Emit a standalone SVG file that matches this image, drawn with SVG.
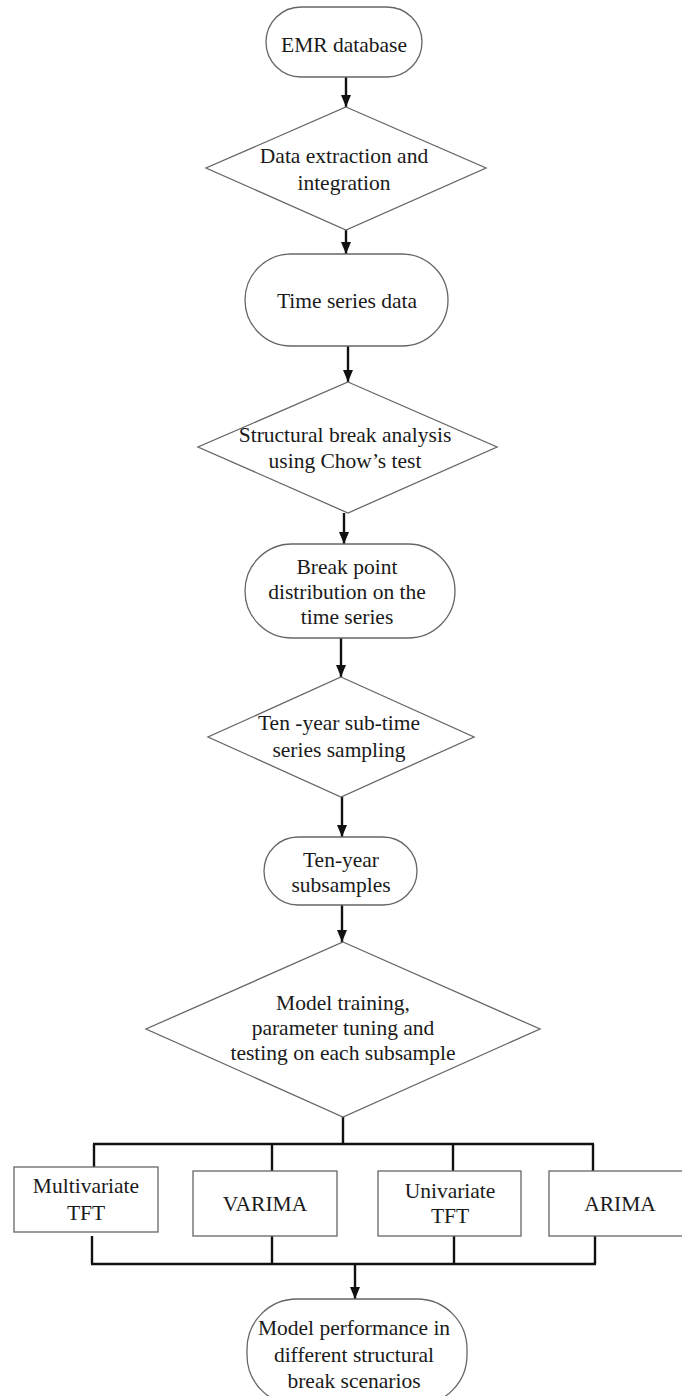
<svg xmlns="http://www.w3.org/2000/svg" width="682" height="1396" viewBox="0 0 682 1396">
<style>
.shape{fill:#fff;stroke:#666;stroke-width:1.3}
.t{font-family:"Liberation Serif","Times New Roman",serif;font-size:21.5px;fill:#1a1a1a;text-anchor:middle}
.c{fill:none;stroke:#111;stroke-width:2.4}
</style>
<defs>
<marker id="ah" markerUnits="userSpaceOnUse" markerWidth="12" markerHeight="12" viewBox="0 0 12 12" refX="12" refY="6" orient="auto">
<path d="M0,1 L12,6 L0,11 z" fill="#111"/>
</marker>
</defs>
<rect width="682" height="1396" fill="#fff"/>
<g id="connectors">
<line class="c" x1="346" y1="77" x2="346" y2="107" marker-end="url(#ah)"/>
<line class="c" x1="346" y1="230" x2="346" y2="254" marker-end="url(#ah)"/>
<line class="c" x1="348" y1="346" x2="348" y2="382" marker-end="url(#ah)"/>
<line class="c" x1="344" y1="513" x2="344" y2="544" marker-end="url(#ah)"/>
<line class="c" x1="341" y1="638" x2="341" y2="677" marker-end="url(#ah)"/>
<line class="c" x1="342" y1="797" x2="342" y2="837" marker-end="url(#ah)"/>
<line class="c" x1="342" y1="905" x2="342" y2="942" marker-end="url(#ah)"/>
<line class="c" x1="343" y1="1117" x2="343" y2="1144"/>
<line class="c" x1="93" y1="1144" x2="594" y2="1144"/>
<line class="c" x1="94" y1="1144" x2="94" y2="1167"/>
<line class="c" x1="272" y1="1144" x2="272" y2="1171"/>
<line class="c" x1="453" y1="1144" x2="453" y2="1171"/>
<line class="c" x1="593" y1="1144" x2="593" y2="1171"/>
<line class="c" x1="92" y1="1236" x2="92" y2="1264"/>
<line class="c" x1="272" y1="1236" x2="272" y2="1264"/>
<line class="c" x1="454" y1="1236" x2="454" y2="1264"/>
<line class="c" x1="595" y1="1236" x2="595" y2="1264"/>
<line class="c" x1="91" y1="1264" x2="596" y2="1264"/>
<line class="c" x1="355" y1="1264" x2="355" y2="1299" marker-end="url(#ah)"/>
</g>
<g id="emr">
<rect class="shape" x="266" y="7" width="156" height="70" rx="35" ry="35"/>
<text class="t" x="344" y="52">EMR database</text>
</g>
<g id="extract">
<polygon class="shape" points="346,107 486,168 346,230 206,168"/>
<text class="t" x="344" y="163">Data extraction and</text>
<text class="t" x="344" y="190">integration</text>
</g>
<g id="timeseries">
<rect class="shape" x="245" y="254" width="203" height="92" rx="46" ry="46"/>
<text class="t" x="347" y="308">Time series data</text>
</g>
<g id="chow">
<polygon class="shape" points="348,382 497,447 348,513 198,447"/>
<text class="t" x="345" y="442">Structural break analysis</text>
<text class="t" x="345" y="468">using Chow’s test</text>
</g>
<g id="breakpoint">
<rect class="shape" x="245" y="544" width="210" height="94" rx="47" ry="47"/>
<text class="t" x="347" y="574">Break point</text>
<text class="t" x="347" y="599">distribution on the</text>
<text class="t" x="347" y="624">time series</text>
</g>
<g id="sampling">
<polygon class="shape" points="341,677 474,737 341,797 208,737"/>
<text class="t" x="339" y="730">Ten -year sub-time</text>
<text class="t" x="339" y="757">series sampling</text>
</g>
<g id="subsamples">
<rect class="shape" x="264" y="837" width="153" height="68" rx="34" ry="34"/>
<text class="t" x="341" y="867">Ten-year</text>
<text class="t" x="341" y="892">subsamples</text>
</g>
<g id="training">
<polygon class="shape" points="343,942 540,1029 343,1117 146,1029"/>
<text class="t" x="343" y="1010">Model training,</text>
<text class="t" x="343" y="1035">parameter tuning and</text>
<text class="t" x="343" y="1060">testing on each subsample</text>
</g>
<g id="mtft">
<rect class="shape" x="14" y="1167" width="144" height="65"/>
<text class="t" x="86" y="1193">Multivariate</text>
<text class="t" x="86" y="1220">TFT</text>
</g>
<g id="varima">
<rect class="shape" x="193" y="1171" width="144" height="65"/>
<text class="t" x="265" y="1211">VARIMA</text>
</g>
<g id="utft">
<rect class="shape" x="378" y="1171" width="143" height="65"/>
<text class="t" x="450" y="1198">Univariate</text>
<text class="t" x="450" y="1223">TFT</text>
</g>
<g id="arima">
<rect class="shape" x="549" y="1171" width="143" height="65"/>
<text class="t" x="620" y="1211">ARIMA</text>
</g>
<g id="performance">
<rect class="shape" x="247" y="1299" width="220" height="106" rx="50" ry="50"/>
<text class="t" x="354" y="1335">Model performance in</text>
<text class="t" x="354" y="1362">different structural</text>
<text class="t" x="354" y="1388">break scenarios</text>
</g>
</svg>
